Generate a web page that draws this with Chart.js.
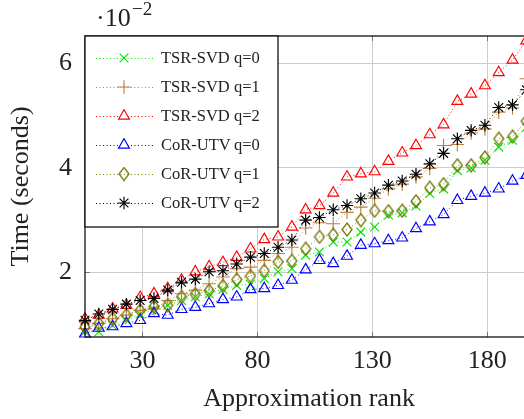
<!DOCTYPE html>
<html lang="en">
<head>
  <meta charset="UTF-8" />
  <title>Time vs approximation rank</title>
  <script src="https://cdn.jsdelivr.net/npm/chart.js"></script>
  <style>
    html, body { margin: 0; padding: 0; background: #fff; overflow: hidden; }
    #wrap { width: 524px; height: 419px; overflow: hidden; position: relative; }
    #chart { position: absolute; left: 0; top: 0; }
  </style>
</head>
<body>
  <div id="wrap"><canvas id="chart" width="545" height="419"></canvas></div>

  <script>
    // ranks on the x axis
    const ranks = [5, 11, 17, 23, 29, 35, 41, 47, 53, 59, 65, 71, 77, 83, 89, 95, 101,
                   107, 113, 119, 125, 131, 137, 143, 149, 155, 161, 167, 173, 179, 185, 191, 197];

    // times, in units of 1e-2 seconds
    const tsrQ0 = [0.86, 0.86, 0.98, 1.08, 1.20, 1.28, 1.37, 1.46, 1.53, 1.59, 1.67, 1.75, 1.77, 1.88, 2.01, 2.07, 2.33,
                   2.39, 2.58, 2.58, 2.77, 2.87, 3.10, 3.14, 3.27, 3.51, 3.60, 3.95, 4.00, 4.15, 4.40, 4.53, 4.78];
    const tsrQ1 = [0.92, 1.02, 1.11, 1.18, 1.27, 1.30, 1.46, 1.59, 1.66, 1.78, 1.91, 2.07, 2.10, 2.23, 2.36, 2.48, 2.85,
                   2.95, 2.93, 3.15, 3.25, 3.42, 3.60, 3.69, 3.83, 3.99, 4.43, 4.45, 4.67, 4.75, 5.07, 5.15, 5.71];
    const tsrQ2 = [1.11, 1.18, 1.30, 1.37, 1.52, 1.59, 1.69, 1.85, 2.01, 2.11, 2.19, 2.29, 2.45, 2.63, 2.68, 2.87, 3.20,
                   3.28, 3.52, 3.83, 3.89, 3.93, 4.13, 4.29, 4.43, 4.64, 4.83, 5.28, 5.42, 5.58, 5.83, 6.07, 6.44];
    const corQ0 = [0.82, 0.93, 0.96, 1.02, 1.08, 1.21, 1.18, 1.29, 1.33, 1.40, 1.48, 1.53, 1.67, 1.69, 1.75, 1.85, 2.05,
                   2.23, 2.17, 2.31, 2.52, 2.55, 2.61, 2.66, 2.84, 2.97, 3.11, 3.38, 3.46, 3.52, 3.60, 3.75, 3.86];
    const corQ1 = [0.95, 1.02, 1.11, 1.18, 1.27, 1.34, 1.37, 1.53, 1.58, 1.65, 1.74, 1.86, 1.93, 2.03, 2.20, 2.22, 2.45,
                   2.68, 2.72, 2.82, 3.00, 3.18, 3.17, 3.18, 3.36, 3.62, 3.69, 4.05, 4.05, 4.20, 4.56, 4.60, 4.90];
    const corQ2 = [1.08, 1.20, 1.29, 1.39, 1.46, 1.50, 1.66, 1.81, 1.87, 2.01, 2.03, 2.16, 2.29, 2.36, 2.48, 2.62, 3.00,
                   3.05, 3.20, 3.28, 3.41, 3.52, 3.67, 3.75, 3.88, 4.08, 4.28, 4.56, 4.72, 4.82, 5.16, 5.21, 5.50];

    const seriesLabels = ['TSR-SVD q=0', 'TSR-SVD q=1', 'TSR-SVD q=2', 'CoR-UTV q=0', 'CoR-UTV q=1', 'CoR-UTV q=2'];
    const xTicks = [30, 80, 130, 180];
    const yTicks = [2, 4, 6];

    const serif = '"Liberation Serif", "Times New Roman", serif';
    const allSeries = [tsrQ0, tsrQ1, tsrQ2, corQ0, corQ1, corQ2];
    const colors = ['#00e600', '#bf8040', '#ff0000', '#0000ff', '#808000', '#000000'];
    const sizes = [6.2, 6.8, 6.3, 6.3, 6, 6.2];

    // pgfplots style diamond: a bit taller than wide
    function diamondMark(color) {
      const c = document.createElement('canvas');
      c.width = 12; c.height = 15;
      const g = c.getContext('2d');
      g.strokeStyle = color;
      g.lineWidth = 1.25;
      g.beginPath();
      g.moveTo(6, 1); g.lineTo(11, 7.5); g.lineTo(6, 14); g.lineTo(1, 7.5); g.closePath();
      g.stroke();
      return c;
    }
    const marks = ['crossRot', 'cross', 'triangle', 'triangle', diamondMark('#757500'), 'star'];

    const datasets = allSeries.map((vals, i) => ({
      label: seriesLabels[i],
      data: ranks.map((r, j) => ({ x: r, y: vals[j] })),
      borderColor: colors[i],
      backgroundColor: 'rgba(0,0,0,0)',
      pointBorderColor: colors[i],
      pointBackgroundColor: 'rgba(0,0,0,0)',
      pointStyle: marks[i],
      pointRadius: sizes[i],
      pointBorderWidth: 1.15,
      borderWidth: 1,
      borderDash: [1, 2.5],
      fill: false,
      tension: 0,
      clip: false,
      order: 5 - i
    }));

    // box around the plot, inner tick marks, legend and the 10^-2 factor
    const framePlugin = {
      id: 'frame',
      beforeDatasetsDraw(chart) {
        const ctx = chart.ctx, a = chart.chartArea;
        const xs = chart.scales.x, ys = chart.scales.y;
        ctx.save();
        ctx.strokeStyle = '#777';
        ctx.lineWidth = 1;
        xTicks.forEach(t => {
          const px = Math.round(xs.getPixelForValue(t)) + 0.5;
          ctx.beginPath();
          ctx.moveTo(px, a.bottom); ctx.lineTo(px, a.bottom - 5);
          ctx.moveTo(px, a.top); ctx.lineTo(px, a.top + 5);
          ctx.stroke();
        });
        yTicks.forEach(t => {
          const py = Math.round(ys.getPixelForValue(t)) + 0.5;
          ctx.beginPath();
          ctx.moveTo(a.left, py); ctx.lineTo(a.left + 5, py);
          ctx.moveTo(a.right, py); ctx.lineTo(a.right - 5, py);
          ctx.stroke();
        });
        ctx.restore();
      },
      afterDatasetsDraw(chart) {
        const ctx = chart.ctx, a = chart.chartArea;
        ctx.save();
        ctx.strokeStyle = '#111';
        ctx.lineWidth = 1.3;
        ctx.strokeRect(a.left, a.top, a.right - a.left, a.bottom - a.top);

        // legend
        const bw = 193, bh = 191;
        ctx.fillStyle = '#fff';
        ctx.fillRect(a.left, a.top, bw, bh);
        ctx.strokeRect(a.left, a.top, bw, bh);
        chart.data.datasets.forEach((ds, i) => {
          const y = a.top + 22 + i * 29;
          const mx = a.left + 39;
          ctx.setLineDash([1, 2.5]);
          ctx.strokeStyle = ds.borderColor;
          ctx.lineWidth = 1;
          ctx.beginPath();
          ctx.moveTo(a.left + 11, y + 0.5);
          ctx.lineTo(a.left + 68, y + 0.5);
          ctx.stroke();
          ctx.setLineDash([]);
          ctx.fillStyle = '#fff';
          ctx.strokeStyle = ds.borderColor;
          ctx.lineWidth = ds.pointBorderWidth;
          if (typeof ds.pointStyle !== 'string') {
            ctx.drawImage(ds.pointStyle, mx - ds.pointStyle.width / 2, y - ds.pointStyle.height / 2);
          } else if (Chart.helpers && Chart.helpers.drawPoint) {
            Chart.helpers.drawPoint(ctx, { pointStyle: ds.pointStyle, radius: ds.pointRadius, borderWidth: ds.pointBorderWidth, rotation: 0 }, mx, y);
          }
          const parts = ds.label.split(' ');
          ctx.fillStyle = '#222';
          ctx.font = '16.5px ' + serif;
          ctx.textBaseline = 'middle';
          ctx.textAlign = 'left';
          ctx.fillText(parts[0], a.left + 76, y + 1);
          ctx.fillText(parts[1], a.left + 149, y + 1);
        });

        // scale factor above the y axis
        ctx.fillStyle = '#222';
        ctx.textBaseline = 'alphabetic';
        ctx.font = '26px ' + serif;
        ctx.fillText('\u00B710', 96, 26);
        ctx.font = '19px ' + serif;
        ctx.fillText('\u22122', 132, 15);
        ctx.restore();
      }
    };

    new Chart(document.getElementById('chart'), {
      type: 'line',
      data: { datasets },
      plugins: [framePlugin],
      options: {
        responsive: false,
        animation: false,
        devicePixelRatio: 1,
        layout: { padding: { left: 0, right: 11.8, top: 36, bottom: 0 } },
        plugins: { legend: { display: false }, tooltip: { enabled: false } },
        scales: {
          x: {
            type: 'linear',
            min: 5,
            max: 200,
            afterBuildTicks: s => { s.ticks = xTicks.map(v => ({ value: v })); },
            afterFit: s => { s.height = 82; },
            grid: { color: '#cccccc', lineWidth: 1, drawTicks: false },
            border: { display: false },
            ticks: { padding: 9, color: '#222', font: { family: serif, size: 26 } },
            title: { display: true, text: 'Approximation rank', color: '#222', font: { family: serif, size: 26 }, padding: { top: 0, bottom: 4 } }
          },
          y: {
            min: 0.76,
            max: 6.53,
            afterBuildTicks: s => { s.ticks = yTicks.map(v => ({ value: v })); },
            afterFit: s => { s.width = 85; },
            grid: { color: '#cccccc', lineWidth: 1, drawTicks: false },
            border: { display: false },
            ticks: { padding: 13, color: '#222', font: { family: serif, size: 26 } },
            title: { display: true, text: 'Time (seconds)', color: '#222', font: { family: serif, size: 26 }, padding: { top: 6, bottom: 0 } }
          }
        }
      }
    });
  </script>
</body>
</html>
